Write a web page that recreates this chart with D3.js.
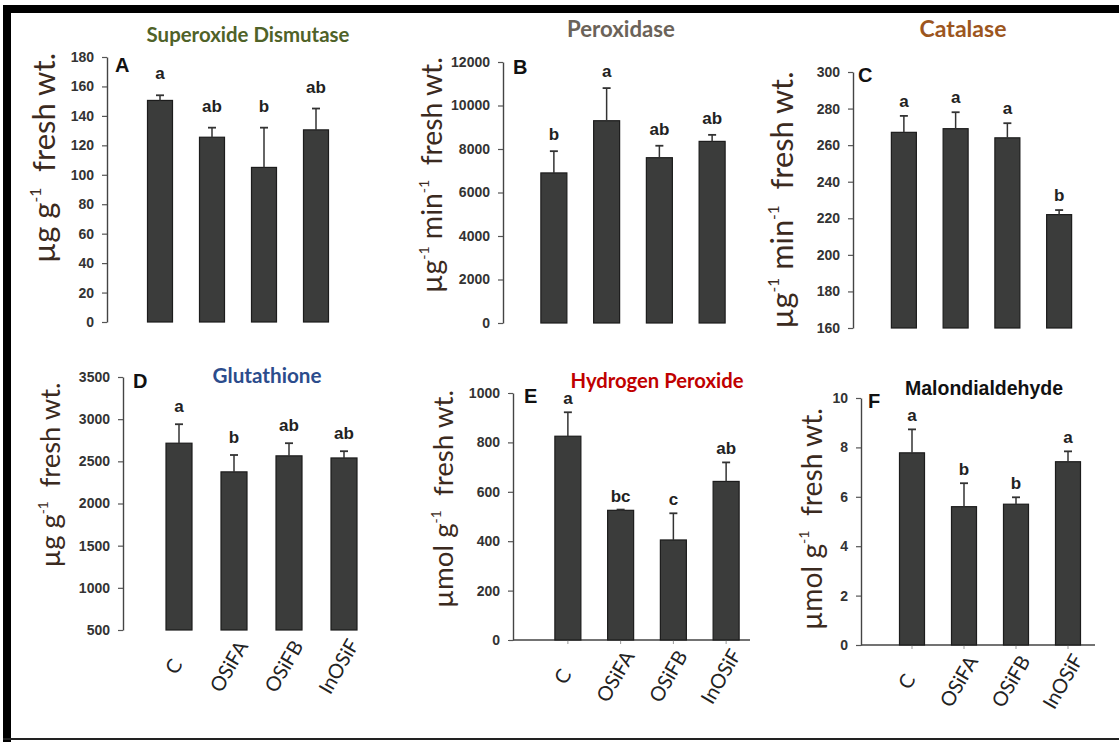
<!DOCTYPE html>
<html>
  <head>
    <style>
      body { margin: 0; background: #fff; }
      svg { display: block; }
    </style>
  </head>
  <body>
    <svg id="svg" width="1119" height="742"></svg>
    <script src="https://cdn.jsdelivr.net/npm/d3@7"></script>
    <script>
      const categories = ['C', 'OSiFA', 'OSiFB', 'InOSiF'];

      // A - superoxide dismutase
      const sodMean = [150.5, 125.5, 105, 130.5];
      const sodErr = [3.5, 6.5, 27, 14.5];
      const sodSig = ['a', 'ab', 'b', 'ab'];
      const sodTicks = [0, 20, 40, 60, 80, 100, 120, 140, 160, 180];

      // B - peroxidase
      const podMean = [6900, 9300, 7600, 8350];
      const podErr = [1000, 1500, 550, 300];
      const podSig = ['b', 'a', 'ab', 'ab'];
      const podTicks = [0, 2000, 4000, 6000, 8000, 10000, 12000];

      // C - catalase
      const catMean = [267, 269, 264, 222];
      const catErr = [9, 9, 8, 2.5];
      const catSig = ['a', 'a', 'a', 'b'];
      const catTicks = [160, 180, 200, 220, 240, 260, 280, 300];

      // D - glutathione
      const gshMean = [2715, 2375, 2565, 2540];
      const gshErr = [225, 200, 150, 80];
      const gshSig = ['a', 'b', 'ab', 'ab'];
      const gshTicks = [500, 1000, 1500, 2000, 2500, 3000, 3500];

      // E - hydrogen peroxide
      const h2o2Mean = [825, 525, 405, 642];
      const h2o2Err = [97, 3, 108, 77];
      const h2o2Sig = ['a', 'bc', 'c', 'ab'];
      const h2o2Ticks = [0, 200, 400, 600, 800, 1000];

      // F - malondialdehyde
      const mdaMean = [7.78, 5.6, 5.7, 7.42];
      const mdaErr = [0.95, 0.95, 0.28, 0.42];
      const mdaSig = ['a', 'b', 'b', 'a'];
      const mdaTicks = [0, 2, 4, 6, 8, 10];

      const ugG = [['µg g'], ['-1', true], ['\u00a0 fresh wt.']];
      const ugMin = [['µg'], ['-1', true], ['\u00a0min'], ['-1', true], ['\u00a0\u00a0fresh wt.']];
      const umolG = [['µmol g'], ['-1', true], ['\u00a0 fresh wt.']];

      const panels = [
        { letter: 'A', title: 'Superoxide Dismutase', color: '#4f6228', mean: sodMean, err: sodErr, sig: sodSig, ticks: sodTicks,
          domain: [0, 180], yr: [322, 57], xr: [134, 342], bw: 25, axisX: 107, gap: 16,
          tx: 248, ty: 42, tw: 203, lab: ugG, lx: 55, ly: 158, lw: 210, px: 115, py: 72 },
        { letter: 'B', title: 'Peroxidase', color: '#6b6359', mean: podMean, err: podErr, sig: podSig, ticks: podTicks,
          domain: [0, 12000], yr: [323, 62], xr: [527.5, 738.5], bw: 26, axisX: 503, gap: 11,
          tx: 621, ty: 37, tw: 108, lab: ugMin, lx: 442, ly: 175, lw: 236, px: 513, py: 74 },
        { letter: 'C', title: 'Catalase', color: '#9c561e', mean: catMean, err: catErr, sig: catSig, ticks: catTicks,
          domain: [160, 300], yr: [328, 72], xr: [878, 1085], bw: 25, axisX: 853, gap: 9,
          tx: 963, ty: 37, tw: 87, lab: ugMin, lx: 793, ly: 200, lw: 257, px: 858, py: 82 },
        { letter: 'D', title: 'Glutathione', color: '#2b4c8c', mean: gshMean, err: gshErr, sig: gshSig, ticks: gshTicks,
          domain: [500, 3500], yr: [630, 377], xr: [151.5, 371.5], bw: 26, axisX: 123, gap: 12,
          tx: 267, ty: 383, tw: 109, lab: ugG, lx: 60, ly: 475, lw: 185, px: 133, py: 388, xlabels: true },
        { letter: 'E', title: 'Hydrogen Peroxide', color: '#c00000', mean: h2o2Mean, err: h2o2Err, sig: h2o2Sig, ticks: h2o2Ticks,
          domain: [0, 1000], yr: [640, 393], xr: [541.5, 752.5], bw: 26, axisX: 513, gap: 8,
          tx: 657, ty: 388, tw: 173, lab: umolG, lx: 453, ly: 499, lw: 218, px: 524, py: 403, xlabels: true, xline: 750 },
        { letter: 'F', title: 'Malondialdehyde', color: '#111', mean: mdaMean, err: mdaErr, sig: mdaSig, ticks: mdaTicks,
          domain: [0, 10], yr: [645, 398], xr: [886, 1094], bw: 25, axisX: 861, gap: 8,
          tx: 984, ty: 395, tw: 158, lab: umolG, lx: 822, ly: 519, lw: 222, px: 868, py: 408, xlabels: true, xline: 1095,
          titleFont: '"Liberation Sans Narrow", "Liberation Sans", sans-serif' }
      ];

      const svg = d3.select('#svg');

      // frame
      svg.append('rect').attr('x', 3).attr('y', 5).attr('width', 1116).attr('height', 8).attr('fill', '#000');
      svg.append('rect').attr('x', 3).attr('y', 5).attr('width', 8).attr('height', 737).attr('fill', '#000');
      svg.append('rect').attr('x', 3).attr('y', 738).attr('width', 1116).attr('height', 2).attr('fill', '#222');

      const fit = (sel, target) => {
        const len = sel.node().getComputedTextLength();
        const fs = parseFloat(sel.attr('font-size'));
        sel.attr('font-size', (fs * target) / len);
      };

      const drawPanel = (p) => {
        const step = (p.xr[1] - p.xr[0]) / categories.length;
        const pi = 1 - p.bw / step;
        const x = d3.scaleBand().domain(categories).range(p.xr).paddingInner(pi).paddingOuter(pi / 2);
        const y = d3.scaleLinear().domain(p.domain).range(p.yr);
        const base = y(p.domain[0]);
        const g = svg.append('g');

        // y axis
        const ax = g.append('g')
          .attr('transform', `translate(${p.axisX},0)`)
          .call(d3.axisLeft(y).tickValues(p.ticks).tickFormat(d3.format('d')).tickSize(5).tickPadding(8).tickSizeOuter(0));
        ax.select('.domain').attr('stroke', '#444').attr('stroke-width', 1.4);
        ax.selectAll('.tick line').attr('stroke', '#555').attr('stroke-width', 1.2);
        ax.selectAll('.tick text')
          .attr('font-family', '"Liberation Sans", Arial, sans-serif')
          .attr('font-weight', 'bold')
          .attr('font-size', 14)
          .attr('fill', '#333');

        // x axis line for lower panels
        if (p.xline) {
          g.append('line')
            .attr('x1', p.axisX).attr('x2', p.xline)
            .attr('y1', base).attr('y2', base)
            .attr('stroke', '#444').attr('stroke-width', 1.4);
          g.selectAll('line.xt').data(categories).join('line')
            .attr('class', 'xt')
            .attr('x1', (d) => x(d) + x.bandwidth() / 2).attr('x2', (d) => x(d) + x.bandwidth() / 2)
            .attr('y1', base).attr('y2', base + 4)
            .attr('stroke', '#999').attr('stroke-width', 1);
        }

        // bars
        g.selectAll('rect.bar').data(p.mean).join('rect')
          .attr('class', 'bar')
          .attr('x', (d, i) => x(categories[i]))
          .attr('width', x.bandwidth())
          .attr('y', (d) => y(d))
          .attr('height', (d) => base - y(d))
          .attr('fill', '#3b3c3b')
          .attr('stroke', '#1c1c1c')
          .attr('stroke-width', 1.2);

        // error bars (upper only)
        const cx = (i) => x(categories[i]) + x.bandwidth() / 2;
        g.selectAll('line.err').data(p.mean).join('line')
          .attr('class', 'err')
          .attr('x1', (d, i) => cx(i)).attr('x2', (d, i) => cx(i))
          .attr('y1', (d) => y(d)).attr('y2', (d, i) => y(d + p.err[i]))
          .attr('stroke', '#333').attr('stroke-width', 1.5);
        g.selectAll('line.cap').data(p.mean).join('line')
          .attr('class', 'cap')
          .attr('x1', (d, i) => cx(i) - 4).attr('x2', (d, i) => cx(i) + 4)
          .attr('y1', (d, i) => y(d + p.err[i])).attr('y2', (d, i) => y(d + p.err[i]))
          .attr('stroke', '#333').attr('stroke-width', 1.8);

        // significance letters
        g.selectAll('text.sig').data(p.sig).join('text')
          .attr('class', 'sig')
          .attr('x', (d, i) => cx(i))
          .attr('y', (d, i) => y(p.mean[i] + p.err[i]) - p.gap)
          .attr('text-anchor', 'middle')
          .attr('font-family', '"Liberation Sans", Arial, sans-serif')
          .attr('font-weight', 'bold')
          .attr('font-size', 17)
          .attr('fill', '#222')
          .text((d) => d);

        // panel letter
        g.append('text')
          .attr('x', p.px).attr('y', p.py)
          .attr('font-family', '"Liberation Sans", Arial, sans-serif')
          .attr('font-weight', 'bold')
          .attr('font-size', 20)
          .attr('fill', '#111')
          .text(p.letter);

        // title
        const t = g.append('text')
          .attr('x', p.tx).attr('y', p.ty)
          .attr('text-anchor', 'middle')
          .attr('font-family', p.titleFont || 'Lato, "Open Sans", sans-serif')
          .attr('font-weight', 'bold')
          .attr('font-size', 20)
          .attr('fill', p.color)
          .text(p.title);
        fit(t, p.tw);

        // y label
        const yl = g.append('text')
          .attr('transform', `translate(${p.lx},${p.ly}) rotate(-90)`)
          .attr('text-anchor', 'middle')
          .attr('font-family', 'Lato, "Open Sans", sans-serif')
          .attr('font-size', 28)
          .attr('fill', '#3b2a20');
        let raised = false;
        p.lab.forEach(([s, sup]) => {
          const ts = yl.append('tspan').text(s);
          if (sup) {
            ts.attr('font-size', '0.5em').attr('dy', '-0.9em');
            raised = true;
          } else if (raised) {
            ts.attr('dy', '0.45em');
            raised = false;
          }
        });
        fit(yl, p.lw);

        // category labels
        if (p.xlabels) {
          g.selectAll('text.cat').data(categories).join('text')
            .attr('class', 'cat')
            .attr('transform', (d) => `translate(${x(d) + x.bandwidth() / 2 - 6},${base + 36}) rotate(-60)`)
            .attr('text-anchor', 'middle')
            .attr('dominant-baseline', 'central')
            .attr('font-family', 'Lato, "Open Sans", sans-serif')
            .attr('font-size', 20)
            .attr('fill', '#222')
            .text((d) => d);
        }
      };

      panels.forEach(drawPanel);
    </script>
  </body>
</html>
